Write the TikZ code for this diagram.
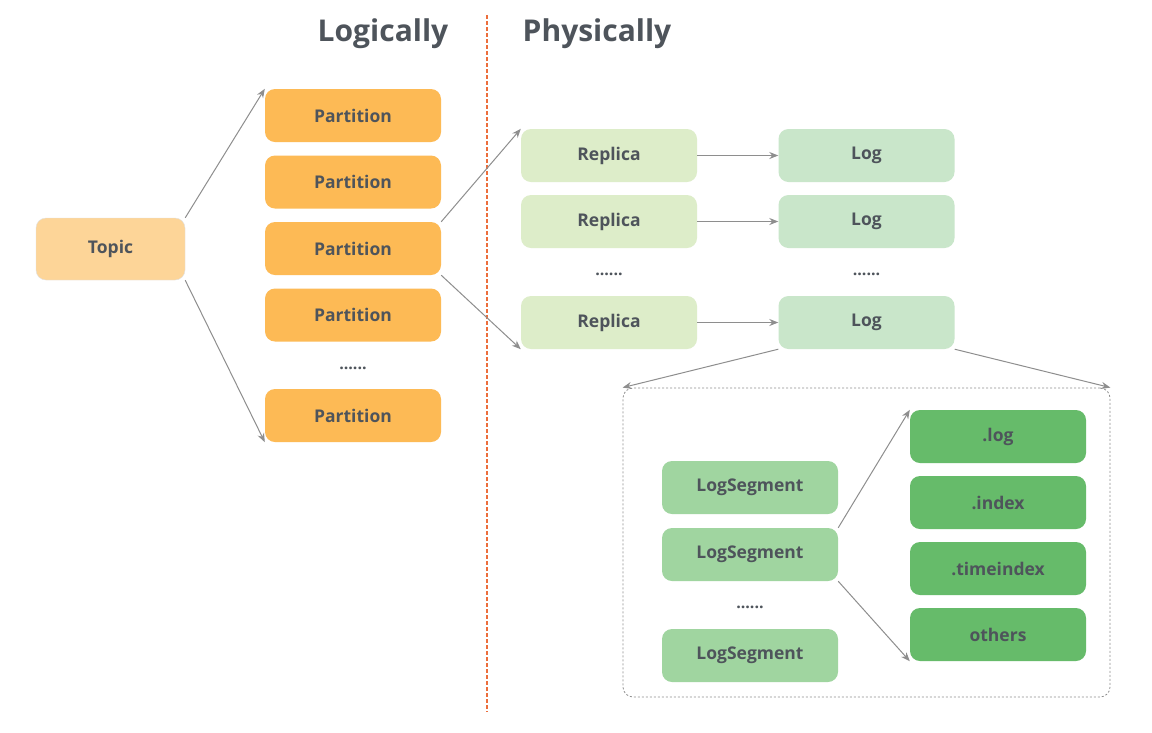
\documentclass[tikz,border=0pt]{standalone}
\usepackage{fontspec}
\setmainfont{Open Sans}
\usetikzlibrary{arrows.meta}
\definecolor{txt}{HTML}{4E545B}
\definecolor{topicc}{HTML}{FDD598}
\definecolor{partc}{HTML}{FDBA55}
\definecolor{repc}{HTML}{DDEDC9}
\definecolor{logc}{HTML}{C9E6CA}
\definecolor{segc}{HTML}{A0D5A0}
\definecolor{filec}{HTML}{66BB6A}
\definecolor{arr}{HTML}{8E8E8E}
\definecolor{divider}{RGB}{236,110,60}
\tikzset{
  box/.style={rounded corners=10pt, minimum width=176pt, minimum height=53pt, inner sep=0pt,
    text=txt, font=\fontsize{17.5}{20}\selectfont\bfseries},
  topicbox/.style={box, fill=topicc, minimum width=149pt, minimum height=62pt, draw=black!12},
  partbox/.style={box, fill=partc},
  repbox/.style={box, fill=repc},
  logbox/.style={box, fill=logc},
  segbox/.style={box, fill=segc},
  filebox/.style={box, fill=filec},
  dots/.style={text=txt, font=\fontsize{16}{18}\selectfont\bfseries, inner sep=0pt},
  conn/.style={draw=arr, line width=1pt, -{Stealth[length=9pt,width=7pt]}},
  title/.style={text=txt, font=\fontsize{30}{34}\selectfont\bfseries, inner sep=0pt},
  divline/.style={draw=divider, line width=1.3pt, dash pattern=on 4pt off 2pt}
}
\begin{document}
\begin{tikzpicture}[x=1pt,y=-1pt]
\useasboundingbox (0,0) rectangle (1152,732);
\fill[white] (0,0) rectangle (1152,732);

\node[title] (tl) at (383,34) {Logically};
\node[title] (tp) at (597,34) {Physically};
\coordinate (d1) at (487,15);
\coordinate (d2) at (487,712);
\draw[divline] (d1) -- (d2);

\node[topicbox] (topic) at (110.5,249) {Topic};
\node[partbox] (p1) at (353,115.5) {Partition};
\node[partbox] (p2) at (353,182) {Partition};
\node[partbox] (p3) at (353,248.5) {Partition};
\node[partbox] (p4) at (353,315) {Partition};
\node[dots] (pd) at (353,368) {......};
\node[partbox] (p5) at (353,415.5) {Partition};

\draw[conn] (topic.north east) -- (p1.north west);
\draw[conn] (topic.south east) -- (p5.south west);

\node[repbox] (r1) at (609,155.5) {Replica};
\node[repbox] (r2) at (609,221.5) {Replica};
\node[dots] (rd) at (609,274) {......};
\node[repbox] (r3) at (609,322.5) {Replica};

\node[logbox] (l1) at (866.5,155.5) {Log};
\node[logbox] (l2) at (866.5,221.5) {Log};
\node[dots] (ld) at (866.5,274) {......};
\node[logbox] (l3) at (866.5,322.5) {Log};

\draw[conn] (p3.north east) -- (r1.north west);
\draw[conn] (p3.south east) -- (r3.south west);
\draw[conn] (r1) -- (l1);
\draw[conn] (r2) -- (l2);
\draw[conn] (r3) -- (l3);

\node[draw=arr, dash pattern=on 2pt off 2pt, line width=0.8pt, rounded corners=10pt,
  minimum width=487pt, minimum height=309pt, inner sep=0pt] (box) at (866.5,542.5) {};
\draw[conn] (l3.south west) -- (box.north west);
\draw[conn] (l3.south east) -- (box.north east);

\node[segbox] (s1) at (750,487.5) {LogSegment};
\node[segbox] (s2) at (750,554.5) {LogSegment};
\node[dots] (sd) at (750,607) {......};
\node[segbox] (s3) at (750,655.5) {LogSegment};

\node[filebox] (f1) at (998,436.5) {.log};
\node[filebox] (f2) at (998,502.5) {.index};
\node[filebox] (f3) at (998,568.5) {.timeindex};
\node[filebox] (f4) at (998,634.5) {others};

\draw[conn] (s2.north east) -- (f1.north west);
\draw[conn] (s2.south east) -- (f4.south west);
\end{tikzpicture}
\end{document}
